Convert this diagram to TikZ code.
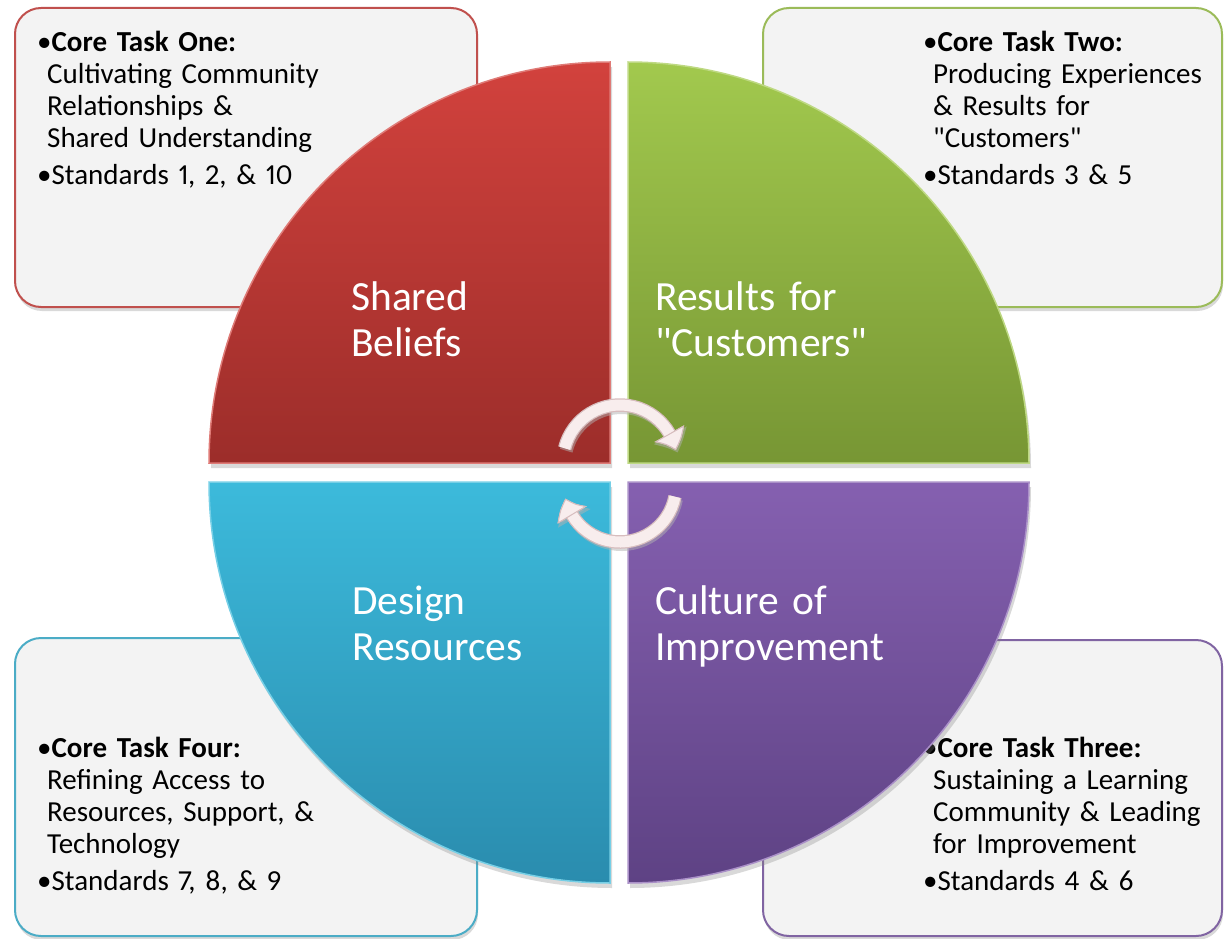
\documentclass[tikz,border=0pt]{standalone}
\usepackage{fontspec}
\setmainfont{Carlito}[Numbers=Proportional]
\usepackage{tikz}
\usetikzlibrary{calc,shadows,arrows.meta,bending}
\usepackage{xcolor}
\definecolor{taskred}{HTML}{C0504D}
\definecolor{taskgreen}{HTML}{9BBB59}
\definecolor{taskblue}{HTML}{4BACC6}
\definecolor{taskpurple}{HTML}{8064A2}
\definecolor{boxgray}{HTML}{F3F3F3}
\definecolor{redtop}{HTML}{D2423D}
\definecolor{redbot}{HTML}{9C2D2A}
\definecolor{greentop}{HTML}{A2C94E}
\definecolor{greenbot}{HTML}{779634}
\definecolor{bluetop}{HTML}{3CBADB}
\definecolor{bluebot}{HTML}{2A8CAE}
\definecolor{purpletop}{HTML}{8560B0}
\definecolor{purplebot}{HTML}{5E4284}
\definecolor{arrowpink}{HTML}{F8EDED}
\definecolor{arrowedge}{HTML}{D7BDBE}
\newcommand{\boxtext}{\fontsize{29}{32}\selectfont}
\newcommand{\bigtext}{\fontsize{41.5}{46.5}\selectfont}
\newcommand{\hang}{\hangindent=10pt\hangafter=1 }

\tikzset{
    taskbox/.style={rounded corners=26pt,fill=boxgray,line width=2pt,
        drop shadow={opacity=0.3,shadow xshift=1pt,shadow yshift=-4pt}},
    tasktext/.style={anchor=base west,inner sep=0pt,text width=300pt,font=\boxtext},
    quadrant/.style={line width=1.5pt,
        drop shadow={opacity=0.3,shadow xshift=2pt,shadow yshift=-5pt}},
    quadlabel/.style={anchor=base west,inner sep=0pt,text width=260pt,text=white,font=\bigtext},
    cyclearrow/.style={draw=arrowpink,line width=11pt,
        -{Triangle[width=34pt,length=18pt,bend,fill=arrowpink,color=arrowedge,line width=1pt]},
        preaction={draw=black!30,opacity=0.5,line width=13pt,
            -{Triangle[width=36pt,length=19pt,bend]},
            transform canvas={xshift=1.5pt,yshift=-2.5pt}},
        preaction={draw=arrowedge,line width=13.5pt,
            -{Triangle[width=34pt,length=18pt,bend,fill=arrowpink,color=arrowedge,line width=1pt]}}}
}

\begin{document}
\begin{tikzpicture}[x=1pt,y=1pt]
    \useasboundingbox (0,0) rectangle (1224,-939);

    % boxes behind the circle
    \draw[taskbox,draw=taskred] (15,-8) rectangle (477,-307);
    \draw[taskbox,draw=taskgreen] (763,-8) rectangle (1222,-307);
    \draw[taskbox,draw=taskblue] (15,-638) rectangle (477,-936);
    \draw[taskbox,draw=taskpurple] (763,-640) rectangle (1222,-936);

    \node[tasktext] (taskone) at (37,-52) {\hang\textbullet\textbf{Core Task One:}\newline
        Cultivating Community\newline Relationships \&\newline Shared Understanding\par
        \vspace{5pt}\textbullet Standards 1, 2, \& 10};
    \node[tasktext] (tasktwo) at (923,-52) {\hang\textbullet\textbf{Core Task Two:}\newline
        Producing Experiences\newline \& Results for\newline \textquotedbl Customers\textquotedbl\par
        \vspace{5pt}\textbullet Standards 3 \& 5};
    \node[tasktext] (taskfour) at (37,-757) {\hang\textbullet\textbf{Core Task Four:}\newline
        Refining Access to\newline Resources, Support, \&\newline Technology\par
        \vspace{5pt}\textbullet Standards 7, 8, \& 9};
    \node[tasktext] (taskthree) at (923,-757) {\hang\textbullet\textbf{Core Task Three:}\newline
        Sustaining a Learning\newline Community \& Leading\newline for Improvement\par
        \vspace{5pt}\textbullet Standards 4 \& 6};

    % the four quarters
    \path[quadrant,draw=redtop!70!white,top color=redtop,bottom color=redbot]
        (610,-463) -- (209,-463) arc[start angle=180,end angle=90,radius=401] -- cycle;
    \path[quadrant,draw=greentop!70!white,top color=greentop,bottom color=greenbot]
        (628,-463) -- (628,-62) arc[start angle=90,end angle=0,radius=401] -- cycle;
    \path[quadrant,draw=bluetop!70!white,top color=bluetop,bottom color=bluebot]
        (610,-482) -- (209,-482) arc[start angle=180,end angle=270,radius=401] -- cycle;
    \path[quadrant,draw=purpletop!70!white,top color=purpletop,bottom color=purplebot]
        (628,-482) -- (1029,-482) arc[start angle=0,end angle=-90,radius=401] -- cycle;

    \node[quadlabel] (beliefs) at (351,-310) {Shared\newline Beliefs};
    \node[quadlabel] (results) at (655,-310) {Results for\newline \textquotedbl Customers\textquotedbl};
    \node[quadlabel] (design) at (352,-614) {Design\newline Resources};
    \node[quadlabel] (culture) at (655,-614) {Culture of\newline Improvement};

    % cycle arrows in the middle
    \coordinate (upstart) at ($(620,-462)+(166:57)$);
    \coordinate (downstart) at ($(620,-486)+(-11:56)$);
    \draw[cyclearrow] (upstart) arc[start angle=166,end angle=12,radius=57];
    \draw[cyclearrow] (downstart) arc[start angle=-11,end angle=-167,radius=56];
\end{tikzpicture}
\end{document}
